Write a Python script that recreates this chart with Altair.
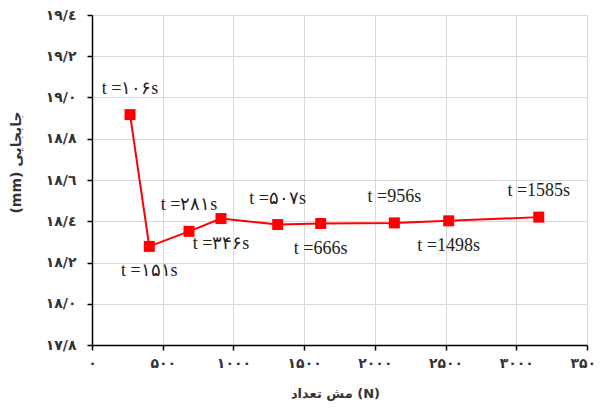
import altair as alt
import pandas as pd

# Data
mesh = [269, 405, 686, 912, 1313, 1617, 2138, 2522, 3159]
disp = [18.917, 18.278, 18.351, 18.413, 18.384, 18.389, 18.392, 18.402, 18.420]
times = ["t =۱۰۶s", "t =۱۵۱s", "t =۲۸۱s", "t =۳۴۶s", "t =۵۰۷s",
         "t =666s", "t =956s", "t =1498s", "t =1585s"]
side = ["above", "below", "above", "below", "above", "below", "above", "below", "above"]

x_ticks = [0, 500, 1000, 1500, 2000, 2500, 3000, 3500]
x_tick_labels = ["۰", "۵۰۰", "۱۰۰۰", "۱۵۰۰", "۲۰۰۰", "۲۵۰۰", "۳۰۰۰", "۳۵۰۰"]
y_ticks = [17.8, 18.0, 18.2, 18.4, 18.6, 18.8, 19.0, 19.2, 19.4]
y_tick_labels = ["۱۷/۸", "۱۸/۰", "۱۸/۲", "۱۸/٤", "۱۸/٦", "۱۸/۸", "۱۹/۰", "۱۹/۲", "۱۹/٤"]

x_title = "مش تعداد (N)"
y_title = "(mm) جابجایی"

df = pd.DataFrame({"mesh": mesh, "disp": disp, "label": times, "side": side})


def expr(labels, values):
    labs = "[" + ",".join("'" + s + "'" for s in labels) + "]"
    vals = "[" + ",".join(repr(v) for v in values) + "]"
    return f"{labs}[indexof({vals}, datum.value)]"


x_enc = alt.X(
    "mesh:Q",
    scale=alt.Scale(domain=[0, 3500], nice=False, zero=False),
    axis=alt.Axis(
        values=x_ticks, labelExpr=expr(x_tick_labels, x_ticks),
        title=x_title, titleX=243, titleY=48, titleBaseline="middle",
        titleAlign="center",
        grid=True, gridColor="#d9d9d9", gridWidth=1,
        domainColor="#000000", domainWidth=1.5,
        tickColor="#000000", tickSize=5, tickWidth=1.5,
        labelPadding=6, labelFont="DejaVu Sans", labelFontWeight="bold",
        labelFontSize=14, labelColor="#333333", labelFlush=False,
        titleFont="DejaVu Sans", titleFontSize=13, titleFontWeight="bold",
        titleColor="#333333",
    ),
)
y_enc = alt.Y(
    "disp:Q",
    scale=alt.Scale(domain=[17.8, 19.4], nice=False, zero=False),
    axis=alt.Axis(
        values=y_ticks, labelExpr=expr(y_tick_labels, y_ticks),
        title=y_title, titleX=-76, titleY=147, titleAngle=270,
        titleBaseline="middle", titleAlign="center",
        grid=True, gridColor="#d9d9d9", gridWidth=1,
        domainColor="#000000", domainWidth=1.5,
        tickColor="#000000", tickSize=5, tickWidth=1.5,
        labelPadding=11, labelFont="DejaVu Sans", labelFontWeight="bold",
        labelFontSize=14, labelColor="#333333",
        titleFont="DejaVu Sans", titleFontSize=14, titleFontWeight="bold",
        titleColor="#333333",
    ),
)

base = alt.Chart(df).encode(x=x_enc, y=y_enc)

line = base.mark_line(color="#ff0000", strokeWidth=2)
pts = base.mark_point(shape="square", filled=True, color="#ff0000", size=121, opacity=1)

text_style = dict(font="Liberation Serif, Times New Roman, serif", fontSize=18,
                  color="#222222", baseline="middle")
above = base.transform_filter(alt.datum.side == "above").mark_text(dy=-26, **text_style).encode(text="label:N")
below = base.transform_filter(alt.datum.side == "below").mark_text(dy=25, **text_style).encode(text="label:N")

chart = alt.layer(line, pts, above, below).properties(
    width=495, height=330,
    autosize=alt.AutoSizeParams(type="none"),
    padding={"left": 84, "top": 7, "right": 10, "bottom": 58},
).configure_view(stroke="#000000", strokeWidth=1.5).configure(background="#ffffff")

chart.save("out.html", embed_options={"renderer": "svg", "actions": False})
